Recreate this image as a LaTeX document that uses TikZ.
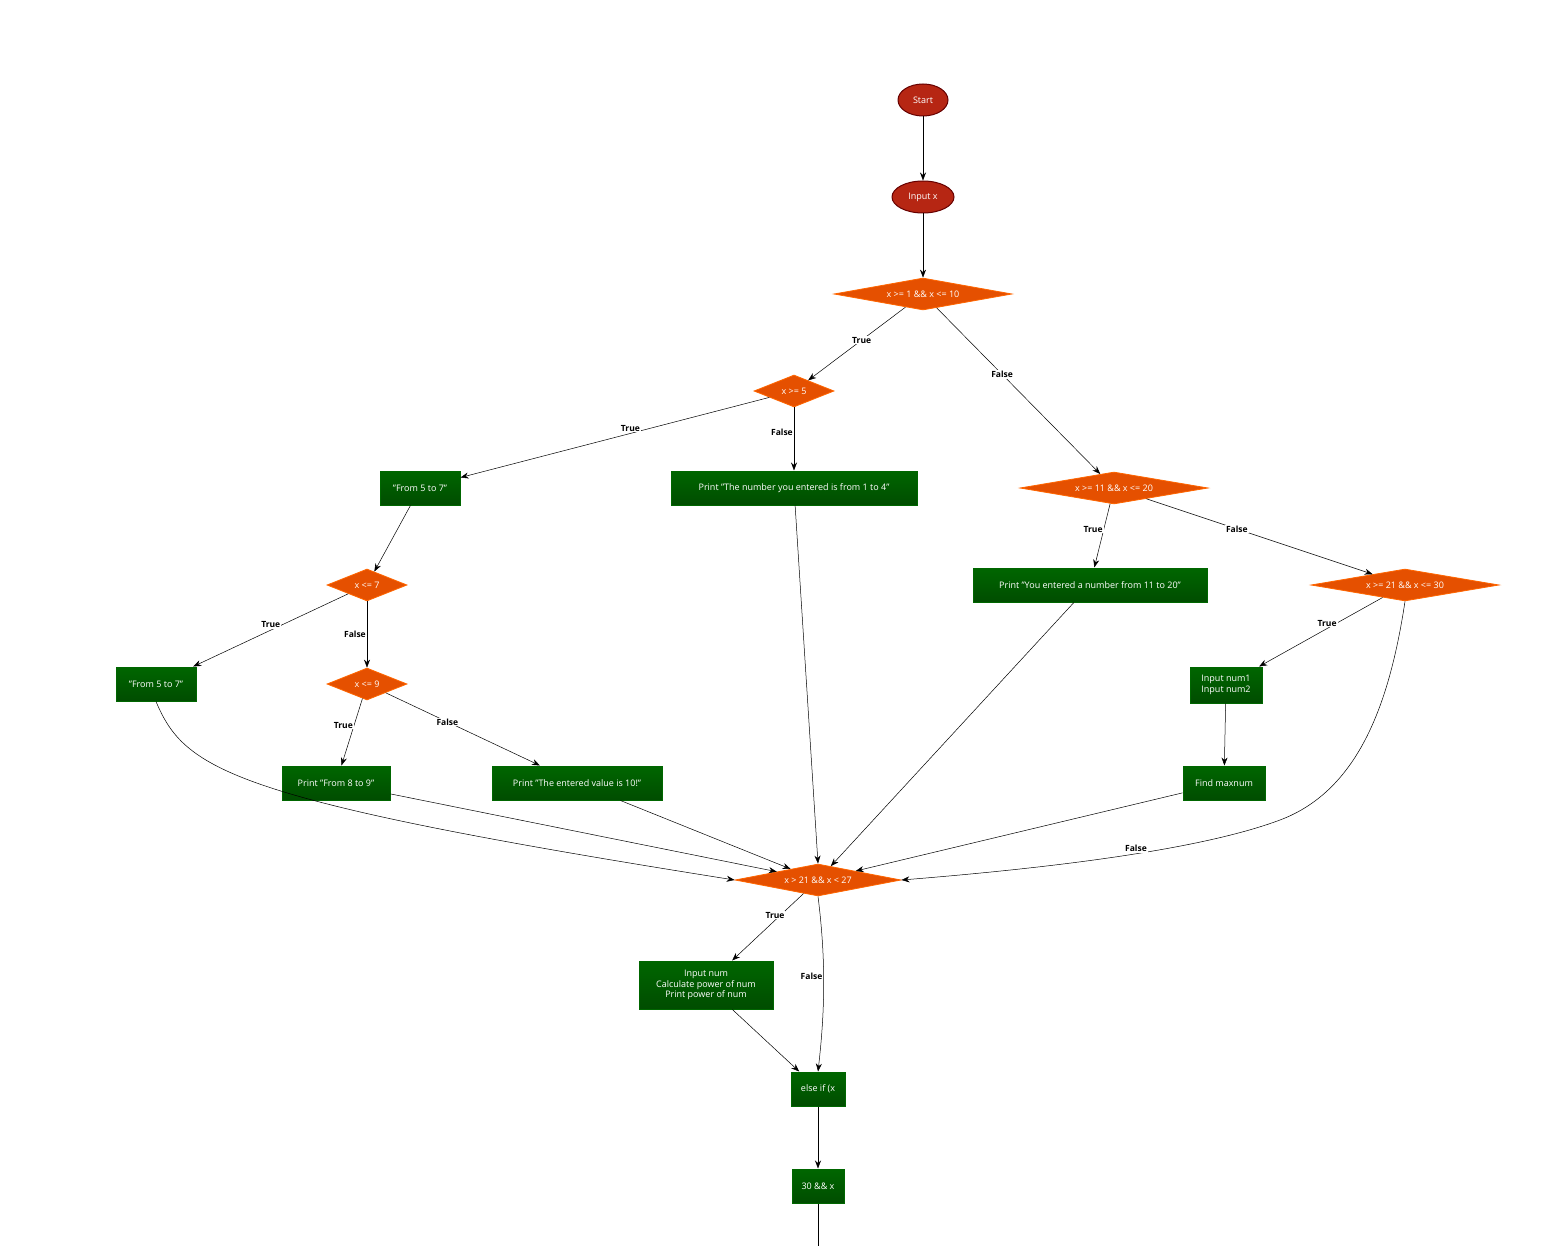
\documentclass[tikz,border=0pt]{standalone}
\usepackage{fontspec}
\setmainfont{Open Sans}
\usetikzlibrary{shapes.geometric,arrows.meta}
\begin{document}
\begin{tikzpicture}[x=1pt,y=-1pt,
  every node/.style={font=\fontsize{9}{10.5}\selectfont},
  term/.style={ellipse,draw=black!60!red,line width=1pt,fill=black!30!red!70!brown,text=white,inner sep=0pt},
  dec/.style={diamond,draw=orange!80!red,line width=0.8pt,fill=orange!70!red!90!black,text=white,inner sep=0pt,minimum width=#1,minimum height=32,shape aspect=4},
  proc/.style={rectangle,draw=green!40!black,line width=1pt,top color=green!40!black,bottom color=green!30!black,middle color=green!35!black,text=white,minimum height=34,inner sep=2pt,align=center},
  arr/.style={-{Stealth[length=8pt,width=6pt]},black,line width=0.5pt},
  lab/.style={font=\fontsize{8.5}{10}\selectfont\bfseries,fill=white,inner sep=1pt}]
\useasboundingbox (0,0) rectangle (1542,1246);
\node[term,minimum width=50,minimum height=32] (st) at (923,100) {Start};
\node[term,minimum width=62,minimum height=32] (in) at (923,197) {Input x};
\node[dec=178,shape aspect=5.5] (d1) at (923,294) {x >= 1 \&\& x <= 10};
\node[dec=80,shape aspect=2.5] (d2) at (794,391) {x >= 5};
\node[proc,minimum width=80] (b1) at (420,488) {"From 5 to 7"};
\node[proc,minimum width=246] (b2) at (794,488) {Print "The number you entered is from 1 to 4"};
\node[dec=188,shape aspect=5.9] (d3) at (1114,488) {x >= 11 \&\& x <= 20};
\node[dec=80,shape aspect=2.5] (d4) at (367,585) {x <= 7};
\node[proc,minimum width=234] (b3) at (1090,585) {Print "You entered a number from 11 to 20"};
\node[dec=188,shape aspect=5.9] (d5) at (1405,585) {x >= 21 \&\& x <= 30};
\node[proc,minimum width=80] (b4) at (156,684) {"From 5 to 7"};
\node[dec=80,shape aspect=2.5] (d6) at (367,684) {x <= 9};
\node[proc,minimum width=72,minimum height=36,font=\fontsize{9}{11}\selectfont] (b5) at (1226,685) {Input num1\\Input num2};
\node[proc,minimum width=108] (b6) at (336,783) {Print "From 8 to 9"};
\node[proc,minimum width=170] (b7) at (577,783) {Print "The entered value is 10!"};
\node[proc,minimum width=82] (b8) at (1224,783) {Find maxnum};
\node[dec=166,shape aspect=5.2] (d7) at (818,880) {x > 21 \&\& x < 27};
\node[proc,minimum width=134,minimum height=48,font=\fontsize{9}{10.5}\selectfont] (b9) at (706,985) {Input num\\Calculate power of num\\Print power of num};
\node[proc,minimum width=54] (b10) at (818,1089) {else if (x};
\node[proc,minimum width=52] (b11) at (818,1186) {30 \&\& x};
\coordinate (end) at (818,1246);
\draw[arr] (st) -- (in);
\draw[arr] (in) -- (d1);
\draw[arr] (d1) -- node[lab,pos=0.45]{True} (d2);
\draw[arr] (d1) -- node[lab,pos=0.4]{False} (d3);
\draw[arr] (d2) -- node[lab,pos=0.45,above=1pt]{True} (b1);
\draw[arr] (d2) -- node[lab,left,pos=0.4]{False} (b2);
\draw[arr] (d3) -- node[lab,left,pos=0.4]{True} (b3);
\draw[arr] (d3) -- node[lab,pos=0.4]{False} (d5);
\draw[arr] (b1) -- (d4);
\draw[arr] (d4) -- node[lab,pos=0.5,above=1pt]{True} (b4);
\draw[arr] (d4) -- node[lab,left,pos=0.5]{False} (d6);
\draw[arr] (d5) -- node[lab,pos=0.45,above=1pt]{True} (b5);
\draw[arr] (d6) -- node[lab,left,pos=0.4]{True} (b6);
\draw[arr] (d6) -- node[lab,pos=0.4]{False} (b7);
\draw[arr] (b5) -- (b8);
\draw[arr] (b4.south) .. controls (185,770) and (230,800) .. (d7.west);
\draw[arr] (b6) -- (d7);
\draw[arr] (b7) -- (d7);
\draw[arr] (b2) -- (d7.north);
\draw[arr] (b3) -- (d7);
\draw[arr] (b8) -- (d7);
\draw[arr] (d5.south) .. controls (1390,700) and (1360,790) .. (1280,820) .. controls (1200,850) and (1050,868) .. node[lab,pos=0.45,above=1pt]{False} (d7.east);
\draw[arr] (d7) -- node[lab,pos=0.4,above=1pt]{True} (b9);
\draw[arr] (d7.south) .. controls (826,960) and (825,1010) .. node[lab,left,pos=0.45]{False} (b10.north);
\draw[arr] (b9) -- (b10);
\draw[arr] (b10) -- (b11);
\draw[black,line width=0.5pt] (b11) -- (end);
\end{tikzpicture}
\end{document}
